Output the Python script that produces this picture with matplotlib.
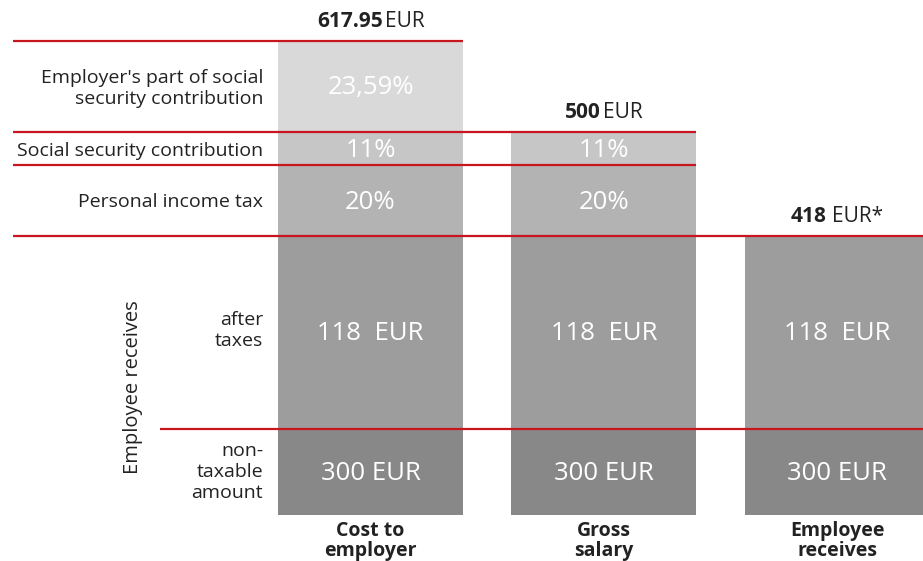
import matplotlib
matplotlib.use("Agg")
import matplotlib.pyplot as plt
import numpy as np

plt.rcParams['font.family'] = ['Open Sans', 'DejaVu Sans']

# ---- data ----
categories = ["Cost to\nemployer", "Gross\nsalary", "Employee\nreceives"]
totals_bold = ["617.95", "500", "418"]
totals_unit = ["EUR", "EUR", "EUR*"]
segment_names = ["non-\ntaxable\namount", "after\ntaxes", "Personal income tax",
                 "Social security contribution",
                 "Employer's part of social\nsecurity contribution"]
segment_labels = ["300 EUR", "118  EUR", "20%", "11%", "23,59%"]
segment_heights = [86, 193, 71, 33, 91]      # schematic display heights (not to scale)
segments_per_bar = [5, 4, 2]
segment_colors = ["#888888", "#9d9d9d", "#b3b3b3", "#c6c6c6", "#d9d9d9"]
side_title = "Employee receives"

RED = "#c8161e"
DARK = "#222222"

fig = plt.figure(figsize=(9.23, 5.61), dpi=100)
ax = fig.add_axes([0, 0, 1, 1])
ax.set_axis_off()
px = 233.3                     # pixels per category unit
ax.set_xlim(-370.5 / px, (923 - 370.5) / px)
ax.set_ylim(-46, 515)

x = np.arange(len(categories))
width = 185 / px
cum = np.concatenate([[0], np.cumsum(segment_heights)])

# bars
for i, n in enumerate(segments_per_bar):
    for s in range(n):
        ax.bar(x[i], segment_heights[s], bottom=cum[s], width=width,
               color=segment_colors[s], linewidth=0, zorder=1)
        yoff = 2 if s in (2, 3) else 1
        ax.text(x[i], cum[s] + segment_heights[s] / 2 - yoff, segment_labels[s],
                ha='center', va='center', color='white', fontsize=18.5, zorder=3)

# red boundary lines
left_full = -1.532
left_inner = -0.902
for b in range(1, len(segment_heights) + 1):
    bars_with = [i for i, n in enumerate(segments_per_bar) if n >= b]
    right = x[max(bars_with)] + width / 2
    left = left_inner if b == 1 else left_full
    ax.hlines(cum[b], left, right, color=RED, linewidth=1.6, zorder=2)

# left segment names
name_x = x[0] - width / 2 - 15 / px
name_off = [0, 2, -1, -2, -2]
for s, name in enumerate(segment_names):
    ax.text(name_x, cum[s] + segment_heights[s] / 2 + name_off[s], name,
            ha='right', va='center', color=DARK, fontsize=14, linespacing=1.2)

ax.text(-1.018, 128, side_title, rotation=90, ha='center', va='center',
        color=DARK, fontsize=14.5)

# category labels
for i, c in enumerate(categories):
    ax.text(x[i], -26, c, ha='center', va='center', fontsize=14,
            fontweight='bold', color=DARK, linespacing=1.0)

# totals (bold number + regular unit)
fig.canvas.draw()
r = fig.canvas.get_renderer()
inv = ax.transData.inverted()
for i, n in enumerate(segments_per_bar):
    top = cum[n] + 20
    tb = ax.text(0, top, totals_bold[i], ha='left', va='center', fontsize=15,
                 fontweight='bold', color=DARK)
    tu = ax.text(0, top, totals_unit[i], ha='left', va='center', fontsize=15,
                 color=DARK)
    wb = tb.get_window_extent(r).width
    wu = tu.get_window_extent(r).width
    gap = 2 if i < 2 else 6
    total_w = wb + gap + wu
    x0_px = ax.transData.transform((x[i], 0))[0] - total_w / 2
    xb = inv.transform((x0_px, 0))[0]
    xu = inv.transform((x0_px + wb + gap, 0))[0]
    tb.set_x(xb)
    tu.set_x(xu)

fig.savefig("out.png", dpi=100)
